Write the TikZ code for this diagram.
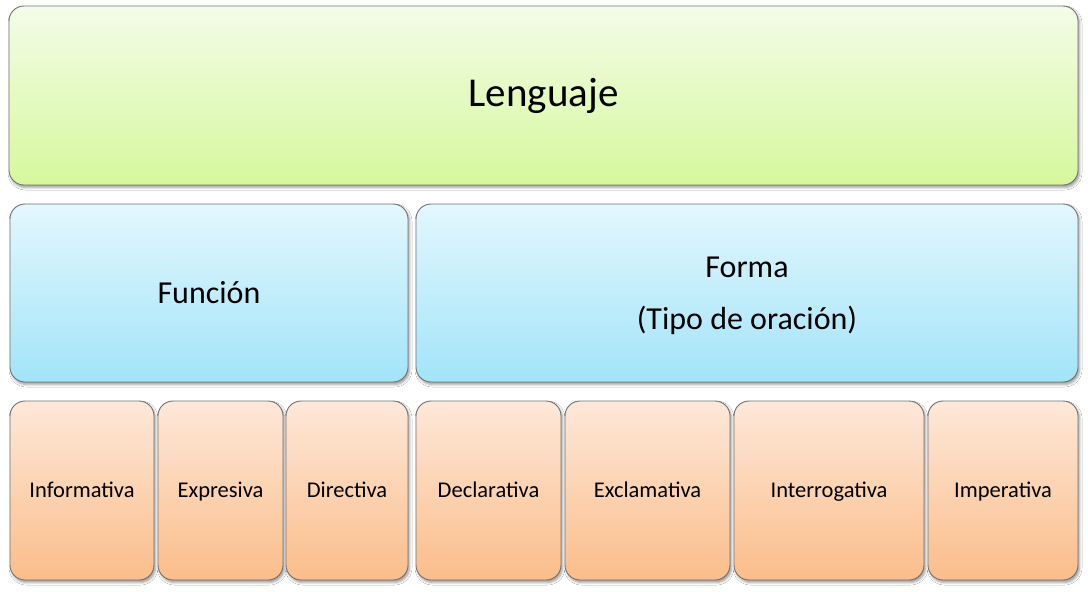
\documentclass[tikz,border=0pt]{standalone}
\usepackage{fontspec}
\setmainfont{Carlito}
\usetikzlibrary{shadows.blur}
\definecolor{bordercol}{HTML}{707070}
\definecolor{gtop}{HTML}{F3FCE8}
\definecolor{gbot}{HTML}{D6F89C}
\definecolor{btop}{HTML}{E3F7FE}
\definecolor{bbot}{HTML}{A2E4F9}
\definecolor{otop}{HTML}{FDE8D9}
\definecolor{obot}{HTML}{FBBD8A}
\tikzset{
  card/.style={draw=bordercol, line width=0.9pt, rounded corners=15pt,
    inner sep=0pt, align=center, text=black,
    blur shadow={shadow xshift=1.5pt, shadow yshift=-2.5pt, shadow blur steps=5, shadow blur radius=2.5pt, shadow opacity=40}},
  green/.style={card, top color=gtop, bottom color=gbot},
  blue/.style={card, top color=btop, bottom color=bbot},
  orange/.style={card, top color=otop, bottom color=obot, font=\fontsize{22.5}{27}\selectfont,
    text height=19pt, text depth=5pt},
}
\begin{document}
\begin{tikzpicture}[x=1pt, y=-1pt]
\useasboundingbox (0,0) rectangle (1088,592);
\fill[white] (0,0) rectangle (1088,592);
% top
\node[green, minimum width=1069pt, minimum height=179pt, font=\fontsize{41}{48}\selectfont] (leng) at (543.5,95.5) {Lenguaje};
% middle
\node[blue, minimum width=398pt, minimum height=178pt, font=\fontsize{32}{38}\selectfont] (func) at (209,293) {Función};
\node[blue, minimum width=662pt, minimum height=178pt, font=\fontsize{32}{52}\selectfont] (forma) at (747,293) {\rule{0pt}{27pt}Forma\\(Tipo de oración)};
% bottom
\node[orange, minimum width=144pt, minimum height=179pt] (inf) at (82,490.5) {Informativa};
\node[orange, minimum width=125pt, minimum height=179pt] (exp) at (220.5,490.5) {Expresiva};
\node[orange, minimum width=122pt, minimum height=179pt] (dir) at (347,490.5) {Directiva};
\node[orange, minimum width=145pt, minimum height=179pt] (dec) at (488.5,490.5) {Declarativa};
\node[orange, minimum width=165pt, minimum height=179pt] (exc) at (647.5,490.5) {Exclamativa};
\node[orange, minimum width=190pt, minimum height=179pt] (int) at (829,490.5) {Interrogativa};
\node[orange, minimum width=150pt, minimum height=179pt] (imp) at (1003,490.5) {Imperativa};
\end{tikzpicture}
\end{document}
